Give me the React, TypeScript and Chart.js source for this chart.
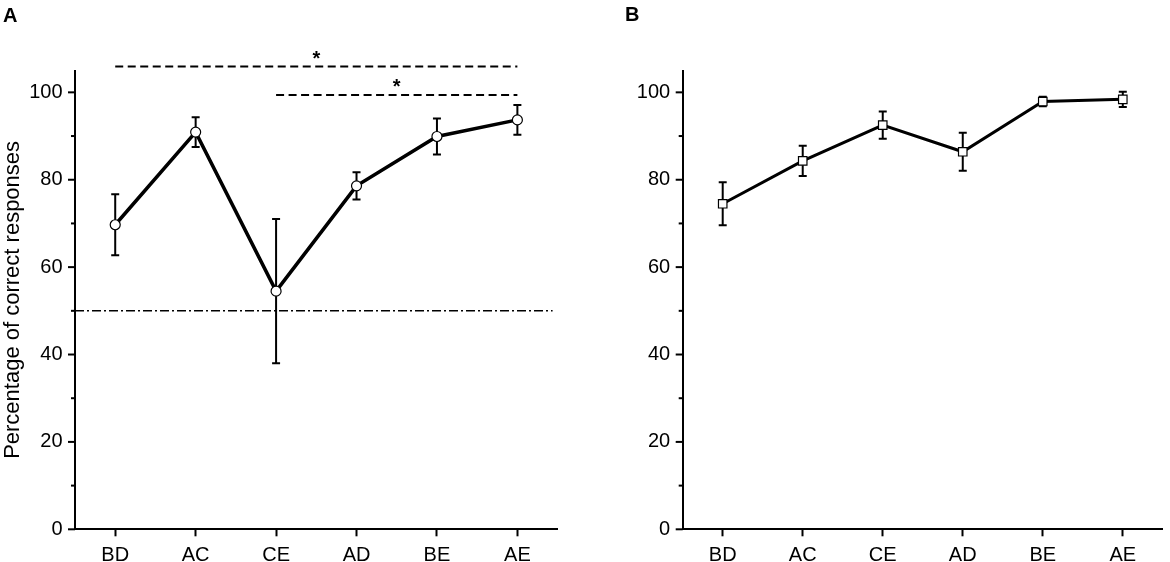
import React, { useEffect, useRef } from "react";
import { Chart, registerables, Plugin } from "chart.js";

Chart.register(...registerables);

// ---- data ----
const categories = ["BD", "AC", "CE", "AD", "BE", "AE"];

// panel A: mean and SEM
const meanA = [69.7, 90.9, 54.5, 78.6, 89.9, 93.7];
const errA = [7.0, 3.4, 16.5, 3.1, 4.1, 3.4];

// panel B: mean and SEM
const meanB = [74.5, 84.3, 92.5, 86.4, 97.9, 98.4];
const errB = [4.9, 3.45, 3.1, 4.35, 1.1, 1.75];

// significance brackets in panel A
const sigLevels = [105.9, 99.4];
const sigFrom = ["BD", "CE"];
const sigTo = ["AE", "AE"];
const sigMarks = ["*", "*"];

const chanceLevel = 50;

const yMin = 0;
const yMax = 105;
const yStep = 10;
const yLabelEvery = 20;
const yTitle = "Percentage of correct responses";

const FONT = "'Liberation Sans', Arial, Helvetica, sans-serif";

Chart.defaults.font.family = FONT;
Chart.defaults.color = "#000";

function overlay(errors: number[], withExtras: boolean): Plugin<"line"> {
  return {
    id: "overlay",
    beforeDatasetsDraw(chart) {
      const { ctx } = chart;
      const x = chart.scales.x;
      const y = chart.scales.y;
      const data = chart.data.datasets[0].data as number[];
      ctx.save();
      ctx.strokeStyle = "#000";
      ctx.lineWidth = 2;
      data.forEach((v, i) => {
        const px = x.getPixelForValue(i);
        const top = y.getPixelForValue(v + errors[i]);
        const bot = y.getPixelForValue(v - errors[i]);
        ctx.beginPath();
        ctx.moveTo(px, top);
        ctx.lineTo(px, bot);
        ctx.moveTo(px - 4, top);
        ctx.lineTo(px + 4, top);
        ctx.moveTo(px - 4, bot);
        ctx.lineTo(px + 4, bot);
        ctx.stroke();
      });
      ctx.restore();
    },
    afterDraw(chart) {
      const { ctx, chartArea } = chart;
      const x = chart.scales.x;
      const y = chart.scales.y;
      ctx.save();
      ctx.strokeStyle = "#000";

      // y ticks: long at labelled values, short in between
      ctx.lineWidth = 2;
      y.ticks.forEach((t) => {
        const py = y.getPixelForValue(t.value);
        const len = t.value % yLabelEvery === 0 ? 7 : 4;
        ctx.beginPath();
        ctx.moveTo(chartArea.left - len, py);
        ctx.lineTo(chartArea.left, py);
        ctx.stroke();
      });

      if (withExtras) {
        // chance level
        const cy = y.getPixelForValue(chanceLevel);
        ctx.lineWidth = 1.4;
        ctx.setLineDash([9, 3, 2, 3]);
        ctx.beginPath();
        ctx.moveTo(chartArea.left, cy);
        ctx.lineTo(chartArea.right - 5, cy);
        ctx.stroke();

        // significance brackets
        ctx.lineWidth = 2;
        ctx.setLineDash([8, 4.5]);
        ctx.fillStyle = "#000";
        ctx.font = `bold 20px ${FONT}`;
        ctx.textAlign = "center";
        ctx.textBaseline = "alphabetic";
        sigLevels.forEach((lvl, i) => {
          const x1 = x.getPixelForValue(categories.indexOf(sigFrom[i]));
          const x2 = x.getPixelForValue(categories.indexOf(sigTo[i]));
          const py = y.getPixelForValue(lvl);
          ctx.beginPath();
          ctx.moveTo(x1, py);
          ctx.lineTo(x2, py);
          ctx.stroke();
          ctx.fillText(sigMarks[i], (x1 + x2) / 2, py - 2);
        });
      }
      ctx.restore();
    },
  };
}

interface PanelProps {
  means: number[];
  errors: number[];
  pointStyle: "circle" | "rect";
  pointRadius: number;
  lineWidth: number;
  axisWidth: number;
  padRight: number;
  showTitle: boolean;
  withExtras: boolean;
}

const Panel: React.FC<PanelProps> = ({
  means,
  errors,
  pointStyle,
  pointRadius,
  lineWidth,
  axisWidth,
  padRight,
  showTitle,
  withExtras,
}) => {
  const canvasRef = useRef<HTMLCanvasElement | null>(null);

  useEffect(() => {
    if (!canvasRef.current) return;
    const chart = new Chart(canvasRef.current, {
      type: "line",
      data: {
        labels: categories,
        datasets: [
          {
            data: means,
            borderColor: "#000",
            borderWidth: lineWidth,
            tension: 0,
            pointStyle,
            pointRadius,
            pointBackgroundColor: "#fff",
            pointBorderColor: "#000",
            pointBorderWidth: 1.2,
          },
        ],
      },
      options: {
        animation: false,
        responsive: true,
        maintainAspectRatio: false,
        layout: { padding: { top: 70.5, right: padRight, left: 0, bottom: 0 } },
        plugins: { legend: { display: false }, tooltip: { enabled: false } },
        scales: {
          x: {
            type: "category",
            offset: true,
            grid: {
              display: true,
              drawOnChartArea: false,
              drawTicks: true,
              tickLength: 7,
              tickColor: "#000",
              tickWidth: 2,
            },
            border: { display: true, color: "#000", width: 2 },
            ticks: {
              color: "#000",
              font: { size: 20 },
              padding: 7,
              maxRotation: 0,
              autoSkip: false,
            },
            afterFit: (s) => {
              s.height = 32.7;
            },
          },
          y: {
            min: yMin,
            max: yMax,
            grid: { display: false, drawTicks: false },
            border: { display: true, color: "#000", width: 2 },
            ticks: {
              stepSize: yStep,
              includeBounds: false,
              color: "#000",
              font: { size: 20 },
              padding: 12.5,
              callback: (v) => (Number(v) % yLabelEvery === 0 ? String(v) : ""),
            },
            title: {
              display: showTitle,
              text: yTitle,
              color: "#000",
              font: { size: 22 },
              padding: 0,
            },
            afterFit: (s) => {
              s.width = axisWidth;
            },
          },
        },
      },
      plugins: [overlay(errors, withExtras)],
    });
    return () => chart.destroy();
  }, [means, errors]);

  return <canvas ref={canvasRef} />;
};

const letterStyle: React.CSSProperties = {
  position: "absolute",
  fontFamily: FONT,
  fontWeight: "bold",
  fontSize: 20,
  lineHeight: "20px",
  color: "#000",
};

export default function App() {
  return (
    <div
      style={{
        position: "fixed",
        left: 0,
        top: 0,
        width: 1170,
        height: 562,
        background: "#fff",
        overflow: "hidden",
      }}
    >
      <div style={{ position: "absolute", left: 0, top: 0, width: 585, height: 562 }}>
        <Panel
          means={meanA}
          errors={errA}
          pointStyle="circle"
          pointRadius={5}
          lineWidth={3.5}
          axisWidth={75}
          padRight={27.4}
          showTitle={true}
          withExtras={true}
        />
      </div>
      <div style={{ position: "absolute", left: 585, top: 0, width: 585, height: 562 }}>
        <Panel
          means={meanB}
          errors={errB}
          pointStyle="rect"
          pointRadius={6}
          lineWidth={3}
          axisWidth={97.7}
          padRight={4.4}
          showTitle={false}
          withExtras={false}
        />
      </div>
      <div style={{ ...letterStyle, left: 3, top: 5 }}>A</div>
      <div style={{ ...letterStyle, left: 625, top: 4 }}>B</div>
    </div>
  );
}
